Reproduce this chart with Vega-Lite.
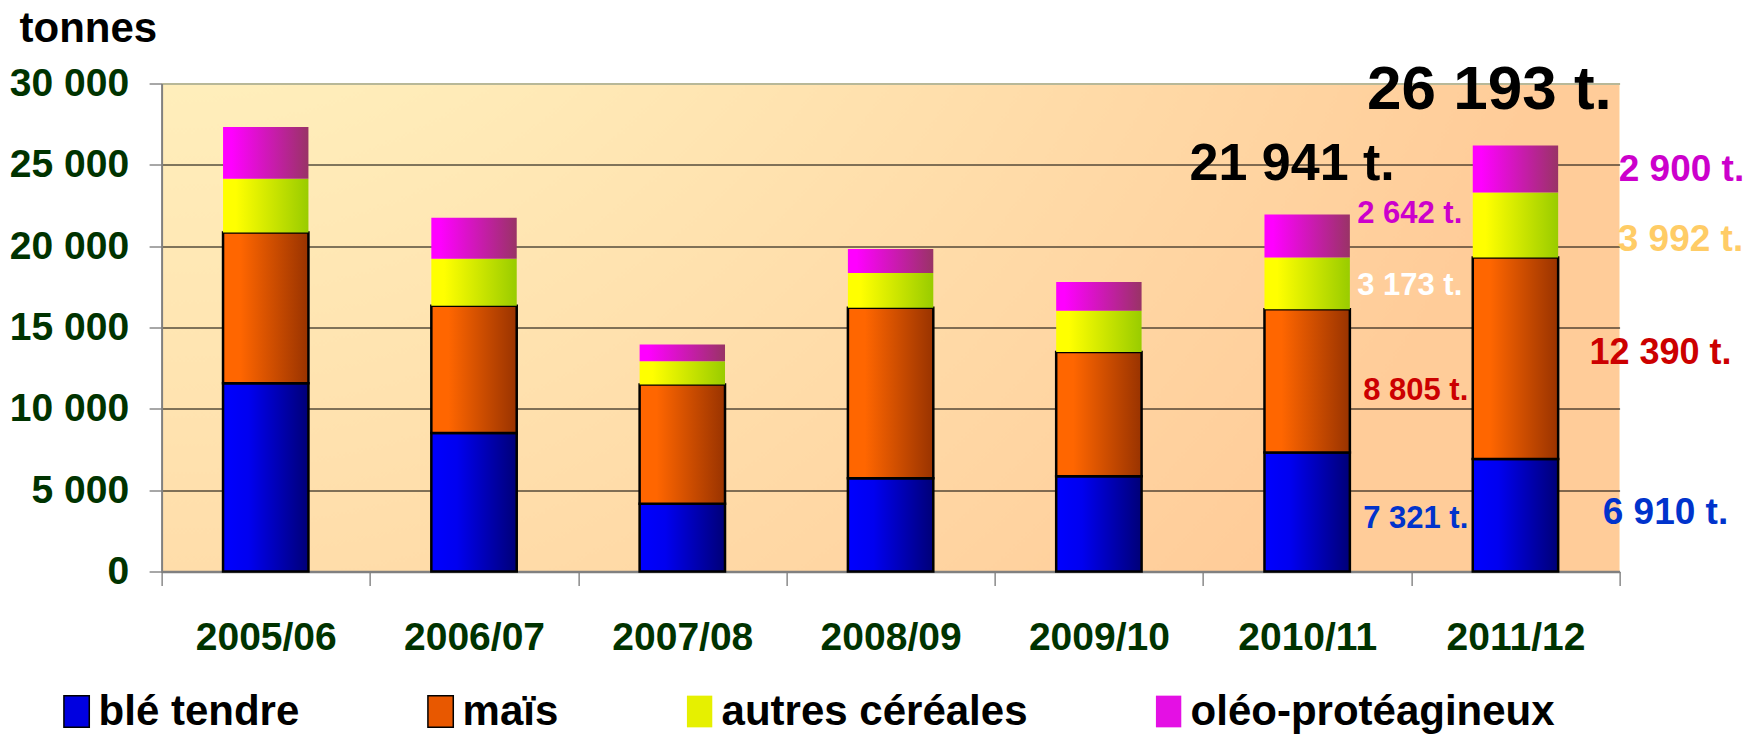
{
  "$schema": "https://vega.github.io/schema/vega-lite/v6.json",
  "width": 1458,
  "height": 488,
  "autosize": {"type": "none"},
  "padding": {"left": 161.6, "top": 83.5, "right": 127.4, "bottom": 165.5},
  "background": "white",
  "datasets": {
    "crops": [
      {"year": "2005/06", "crop": "blé tendre", "value": 11580},
      {"year": "2005/06", "crop": "maïs", "value": 9260},
      {"year": "2005/06", "crop": "autres céréales", "value": 3300},
      {"year": "2005/06", "crop": "oléo-protéagineux", "value": 3190},
      {"year": "2006/07", "crop": "blé tendre", "value": 8510},
      {"year": "2006/07", "crop": "maïs", "value": 7820},
      {"year": "2006/07", "crop": "autres céréales", "value": 2890},
      {"year": "2006/07", "crop": "oléo-protéagineux", "value": 2520},
      {"year": "2007/08", "crop": "blé tendre", "value": 4170},
      {"year": "2007/08", "crop": "maïs", "value": 7330},
      {"year": "2007/08", "crop": "autres céréales", "value": 1420},
      {"year": "2007/08", "crop": "oléo-protéagineux", "value": 1040},
      {"year": "2008/09", "crop": "blé tendre", "value": 5740},
      {"year": "2008/09", "crop": "maïs", "value": 10480},
      {"year": "2008/09", "crop": "autres céréales", "value": 2130},
      {"year": "2008/09", "crop": "oléo-protéagineux", "value": 1470},
      {"year": "2009/10", "crop": "blé tendre", "value": 5860},
      {"year": "2009/10", "crop": "maïs", "value": 7630},
      {"year": "2009/10", "crop": "autres céréales", "value": 2540},
      {"year": "2009/10", "crop": "oléo-protéagineux", "value": 1770},
      {"year": "2010/11", "crop": "blé tendre", "value": 7321},
      {"year": "2010/11", "crop": "maïs", "value": 8805},
      {"year": "2010/11", "crop": "autres céréales", "value": 3173},
      {"year": "2010/11", "crop": "oléo-protéagineux", "value": 2642},
      {"year": "2011/12", "crop": "blé tendre", "value": 6910},
      {"year": "2011/12", "crop": "maïs", "value": 12390},
      {"year": "2011/12", "crop": "autres céréales", "value": 3992},
      {"year": "2011/12", "crop": "oléo-protéagineux", "value": 2900}
    ],
    "totals": [
      {"year": "2010/11", "total": 21941},
      {"year": "2011/12", "total": 26193}
    ]
  },
  "config": {
    "font": "Liberation Sans",
    "view": {
      "stroke": null,
      "fill": {
        "gradient": "radial",
        "x1": 0, "y1": 0, "r1": 0,
        "x2": 0, "y2": 0, "r2": 1,
        "stops": [
          {"offset": 0, "color": "#FFFFCC"},
          {"offset": 1, "color": "#FFCC99"}
        ]
      }
    },
    "text": {"font": "Liberation Sans", "fontWeight": "bold", "baseline": "middle"}
  },
  "layer": [
    {
      "data": {"name": "crops"},
      "transform": [
        {"calculate": "indexof(['blé tendre','maïs','autres céréales','oléo-protéagineux'], datum.crop)", "as": "rank"},
        {"stack": "value", "groupby": ["year"], "sort": [{"field": "rank", "order": "ascending"}], "as": ["y0", "y1"]}
      ],
      "mark": {"type": "bar", "opacity": 0, "width": {"band": 0.41}},
      "encoding": {
        "x": {
          "field": "year", "type": "nominal", "title": null,
          "scale": {"paddingInner": 0, "paddingOuter": 0},
          "axis": {
            "labelAngle": 0, "tickBand": "extent", "tickSize": 14, "tickColor": "#505050",
            "domainColor": "#808080", "domainWidth": 2.5,
            "labelFont": "Liberation Sans",
            "labelFontSize": 39, "labelFontWeight": "bold", "labelColor": "#003300",
            "labelPadding": 32.5, "labelLimit": 400, "grid": false
          }
        },
        "y": {
          "field": "y1", "type": "quantitative",
          "scale": {"domain": [0, 30000], "nice": false},
          "axis": {
            "title": "tonnes", "titleAngle": 0, "titleAlign": "left", "titleBaseline": "alphabetic",
            "titleX": -142.6, "titleY": -41.8, "titleFont": "Liberation Sans", "titleFontSize": 42,
            "titleFontWeight": "bold", "titleColor": "black",
            "values": [0, 5000, 10000, 15000, 20000, 25000, 30000],
            "labelExpr": "replace(format(datum.value, ','), ',', ' ')",
            "labelFont": "Liberation Sans",
            "labelFontSize": 39, "labelFontWeight": "bold", "labelColor": "#003300",
            "labelPadding": 20.5, "tickSize": 12.5, "tickColor": "#505050",
            "domainColor": "#808080", "domainWidth": 2,
            "grid": true,
            "gridColor": {"condition": {"test": "datum.value === 30000", "value": "#B8B898"}, "value": "black"},
            "gridWidth": {"condition": {"test": "datum.value === 30000", "value": 2}, "value": 1}
          }
        },
        "y2": {"field": "y0"},
        "color": {
          "field": "crop", "type": "nominal",
          "scale": {
            "domain": ["blé tendre", "maïs", "autres céréales", "oléo-protéagineux"],
            "range": ["#0000E0", "#E85800", "#E6F000", "#E410E4"]
          },
          "legend": {
            "title": null, "orient": "none", "legendX": -106, "legendY": 607,
            "direction": "horizontal", "padding": 0,
            "symbolType": "M-0.8,-1H0.8V1H-0.8Z", "symbolSize": 1005,
            "symbolOpacity": 1,
            "labelFont": "Liberation Sans", "labelFontSize": 42, "labelFontWeight": "bold",
            "labelColor": "black", "labelOffset": 1, "labelLimit": 600, "columnPadding": 120,
            "encode": {
              "symbols": {
                "update": {
                  "opacity": {"value": 1},
                  "fillOpacity": {"value": 1},
                  "stroke": {"value": "black"},
                  "strokeWidth": {"signal": "indexof(['blé tendre','maïs'], datum.value) >= 0 ? 1.5 : 0"}
                }
              }
            }
          }
        }
      }
    },
    {
      "data": {"name": "crops"},
      "transform": [
        {"calculate": "indexof(['blé tendre','maïs','autres céréales','oléo-protéagineux'], datum.crop)", "as": "rank"},
        {"stack": "value", "groupby": ["year"], "sort": [{"field": "rank", "order": "ascending"}], "as": ["y0", "y1"]},
        {"filter": "datum.crop === 'blé tendre'"}
      ],
      "mark": {"type": "bar", "stroke": "black", "strokeWidth": 2.5, "width": {"band": 0.41},
        "color": {"gradient": "linear", "x1": 0, "y1": 0, "x2": 1, "y2": 0, "stops": [{"offset": 0, "color": "#0000FF"}, {"offset": 0.3, "color": "#0000F0"}, {"offset": 1, "color": "#000077"}]}},
      "encoding": {
        "x": {"field": "year", "type": "nominal"},
        "y": {"field": "y1", "type": "quantitative"},
        "y2": {"field": "y0"}
      }
    },
    {
      "data": {"name": "crops"},
      "transform": [
        {"calculate": "indexof(['blé tendre','maïs','autres céréales','oléo-protéagineux'], datum.crop)", "as": "rank"},
        {"stack": "value", "groupby": ["year"], "sort": [{"field": "rank", "order": "ascending"}], "as": ["y0", "y1"]},
        {"filter": "datum.crop === 'maïs'"}
      ],
      "mark": {"type": "bar", "stroke": "black", "strokeWidth": 2.5, "width": {"band": 0.41},
        "color": {"gradient": "linear", "x1": 0, "y1": 0, "x2": 1, "y2": 0, "stops": [{"offset": 0, "color": "#FF6600"}, {"offset": 0.2, "color": "#FF6600"}, {"offset": 1, "color": "#993300"}]}},
      "encoding": {
        "x": {"field": "year", "type": "nominal"},
        "y": {"field": "y1", "type": "quantitative"},
        "y2": {"field": "y0"}
      }
    },
    {
      "data": {"name": "crops"},
      "transform": [
        {"calculate": "indexof(['blé tendre','maïs','autres céréales','oléo-protéagineux'], datum.crop)", "as": "rank"},
        {"stack": "value", "groupby": ["year"], "sort": [{"field": "rank", "order": "ascending"}], "as": ["y0", "y1"]},
        {"filter": "datum.crop === 'autres céréales'"}
      ],
      "mark": {"type": "bar", "strokeWidth": 0, "width": {"band": 0.41},
        "color": {"gradient": "linear", "x1": 0, "y1": 0, "x2": 1, "y2": 0, "stops": [{"offset": 0, "color": "#FFFF00"}, {"offset": 0.15, "color": "#FFFF00"}, {"offset": 1, "color": "#99CC00"}]}},
      "encoding": {
        "x": {"field": "year", "type": "nominal"},
        "y": {"field": "y1", "type": "quantitative"},
        "y2": {"field": "y0"}
      }
    },
    {
      "data": {"name": "crops"},
      "transform": [
        {"calculate": "indexof(['blé tendre','maïs','autres céréales','oléo-protéagineux'], datum.crop)", "as": "rank"},
        {"stack": "value", "groupby": ["year"], "sort": [{"field": "rank", "order": "ascending"}], "as": ["y0", "y1"]},
        {"filter": "datum.crop === 'oléo-protéagineux'"}
      ],
      "mark": {"type": "bar", "strokeWidth": 0, "width": {"band": 0.41},
        "color": {"gradient": "linear", "x1": 0, "y1": 0, "x2": 1, "y2": 0, "stops": [{"offset": 0, "color": "#FF00FF"}, {"offset": 0.1, "color": "#FF00FF"}, {"offset": 1, "color": "#993366"}]}},
      "encoding": {
        "x": {"field": "year", "type": "nominal"},
        "y": {"field": "y1", "type": "quantitative"},
        "y2": {"field": "y0"}
      }
    },
    {
      "data": {"name": "crops"},
      "transform": [
        {"calculate": "indexof(['blé tendre','maïs','autres céréales','oléo-protéagineux'], datum.crop)", "as": "rank"},
        {"stack": "value", "groupby": ["year"], "sort": [{"field": "rank", "order": "ascending"}], "as": ["y0", "y1"]},
        {"filter": "datum.year === '2010/11' && datum.crop === 'oléo-protéagineux'"},
        {"calculate": "(datum.y0 + datum.y1) / 2", "as": "mid"},
        {"calculate": "replace(format(datum.value, ','), ',', ' ') + ' t.'", "as": "label"}
      ],
      "mark": {"type": "text", "align": "left", "dx": 50, "dy": -22, "fontSize": 31, "color": "#CC00CC"},
      "encoding": {
        "x": {"field": "year", "type": "nominal"},
        "y": {"field": "mid", "type": "quantitative"},
        "text": {"field": "label"}
      }
    },
    {
      "data": {"name": "crops"},
      "transform": [
        {"calculate": "indexof(['blé tendre','maïs','autres céréales','oléo-protéagineux'], datum.crop)", "as": "rank"},
        {"stack": "value", "groupby": ["year"], "sort": [{"field": "rank", "order": "ascending"}], "as": ["y0", "y1"]},
        {"filter": "datum.year === '2010/11' && datum.crop === 'autres céréales'"},
        {"calculate": "(datum.y0 + datum.y1) / 2", "as": "mid"},
        {"calculate": "replace(format(datum.value, ','), ',', ' ') + ' t.'", "as": "label"}
      ],
      "mark": {"type": "text", "align": "left", "dx": 50, "dy": 3, "fontSize": 31, "color": "#FFFFFF"},
      "encoding": {
        "x": {"field": "year", "type": "nominal"},
        "y": {"field": "mid", "type": "quantitative"},
        "text": {"field": "label"}
      }
    },
    {
      "data": {"name": "crops"},
      "transform": [
        {"calculate": "indexof(['blé tendre','maïs','autres céréales','oléo-protéagineux'], datum.crop)", "as": "rank"},
        {"stack": "value", "groupby": ["year"], "sort": [{"field": "rank", "order": "ascending"}], "as": ["y0", "y1"]},
        {"filter": "datum.year === '2010/11' && datum.crop === 'maïs'"},
        {"calculate": "(datum.y0 + datum.y1) / 2", "as": "mid"},
        {"calculate": "replace(format(datum.value, ','), ',', ' ') + ' t.'", "as": "label"}
      ],
      "mark": {"type": "text", "align": "left", "dx": 56, "dy": 10, "fontSize": 31, "color": "#CC0000"},
      "encoding": {
        "x": {"field": "year", "type": "nominal"},
        "y": {"field": "mid", "type": "quantitative"},
        "text": {"field": "label"}
      }
    },
    {
      "data": {"name": "crops"},
      "transform": [
        {"calculate": "indexof(['blé tendre','maïs','autres céréales','oléo-protéagineux'], datum.crop)", "as": "rank"},
        {"stack": "value", "groupby": ["year"], "sort": [{"field": "rank", "order": "ascending"}], "as": ["y0", "y1"]},
        {"filter": "datum.year === '2010/11' && datum.crop === 'blé tendre'"},
        {"calculate": "(datum.y0 + datum.y1) / 2", "as": "mid"},
        {"calculate": "replace(format(datum.value, ','), ',', ' ') + ' t.'", "as": "label"}
      ],
      "mark": {"type": "text", "align": "left", "dx": 56, "dy": 7, "fontSize": 31, "color": "#0033CC"},
      "encoding": {
        "x": {"field": "year", "type": "nominal"},
        "y": {"field": "mid", "type": "quantitative"},
        "text": {"field": "label"}
      }
    },
    {
      "data": {"name": "crops"},
      "transform": [
        {"calculate": "indexof(['blé tendre','maïs','autres céréales','oléo-protéagineux'], datum.crop)", "as": "rank"},
        {"stack": "value", "groupby": ["year"], "sort": [{"field": "rank", "order": "ascending"}], "as": ["y0", "y1"]},
        {"filter": "datum.year === '2011/12' && datum.crop === 'oléo-protéagineux'"},
        {"calculate": "(datum.y0 + datum.y1) / 2", "as": "mid"},
        {"calculate": "replace(format(datum.value, ','), ',', ' ') + ' t.'", "as": "label"}
      ],
      "mark": {"type": "text", "align": "center", "dx": 166, "dy": 1, "fontSize": 37, "color": "#CC00CC"},
      "encoding": {
        "x": {"field": "year", "type": "nominal"},
        "y": {"field": "mid", "type": "quantitative"},
        "text": {"field": "label"}
      }
    },
    {
      "data": {"name": "crops"},
      "transform": [
        {"calculate": "indexof(['blé tendre','maïs','autres céréales','oléo-protéagineux'], datum.crop)", "as": "rank"},
        {"stack": "value", "groupby": ["year"], "sort": [{"field": "rank", "order": "ascending"}], "as": ["y0", "y1"]},
        {"filter": "datum.year === '2011/12' && datum.crop === 'autres céréales'"},
        {"calculate": "(datum.y0 + datum.y1) / 2", "as": "mid"},
        {"calculate": "replace(format(datum.value, ','), ',', ' ') + ' t.'", "as": "label"}
      ],
      "mark": {"type": "text", "align": "center", "dx": 165, "dy": 15, "fontSize": 37, "color": "#FFCC66"},
      "encoding": {
        "x": {"field": "year", "type": "nominal"},
        "y": {"field": "mid", "type": "quantitative"},
        "text": {"field": "label"}
      }
    },
    {
      "data": {"name": "crops"},
      "transform": [
        {"calculate": "indexof(['blé tendre','maïs','autres céréales','oléo-protéagineux'], datum.crop)", "as": "rank"},
        {"stack": "value", "groupby": ["year"], "sort": [{"field": "rank", "order": "ascending"}], "as": ["y0", "y1"]},
        {"filter": "datum.year === '2011/12' && datum.crop === 'maïs'"},
        {"calculate": "(datum.y0 + datum.y1) / 2", "as": "mid"},
        {"calculate": "replace(format(datum.value, ','), ',', ' ') + ' t.'", "as": "label"}
      ],
      "mark": {"type": "text", "align": "center", "dx": 145, "dy": -5, "fontSize": 36, "color": "#CC0000"},
      "encoding": {
        "x": {"field": "year", "type": "nominal"},
        "y": {"field": "mid", "type": "quantitative"},
        "text": {"field": "label"}
      }
    },
    {
      "data": {"name": "crops"},
      "transform": [
        {"calculate": "indexof(['blé tendre','maïs','autres céréales','oléo-protéagineux'], datum.crop)", "as": "rank"},
        {"stack": "value", "groupby": ["year"], "sort": [{"field": "rank", "order": "ascending"}], "as": ["y0", "y1"]},
        {"filter": "datum.year === '2011/12' && datum.crop === 'blé tendre'"},
        {"calculate": "(datum.y0 + datum.y1) / 2", "as": "mid"},
        {"calculate": "replace(format(datum.value, ','), ',', ' ') + ' t.'", "as": "label"}
      ],
      "mark": {"type": "text", "align": "center", "dx": 150, "dy": -2, "fontSize": 37, "color": "#0033CC"},
      "encoding": {
        "x": {"field": "year", "type": "nominal"},
        "y": {"field": "mid", "type": "quantitative"},
        "text": {"field": "label"}
      }
    },
    {
      "data": {"name": "totals"},
      "transform": [
        {"filter": "datum.year === '2010/11'"},
        {"calculate": "replace(format(datum.total, ','), ',', ' ') + ' t.'", "as": "label"}
      ],
      "mark": {"type": "text", "align": "center", "baseline": "alphabetic", "dx": -15, "dy": -35, "fontSize": 52, "color": "black"},
      "encoding": {
        "x": {"field": "year", "type": "nominal"},
        "y": {"field": "total", "type": "quantitative"},
        "text": {"field": "label"}
      }
    },
    {
      "data": {"name": "totals"},
      "transform": [
        {"filter": "datum.year === '2011/12'"},
        {"calculate": "replace(format(datum.total, ','), ',', ' ') + ' t.'", "as": "label"}
      ],
      "mark": {"type": "text", "align": "center", "baseline": "alphabetic", "dx": -26, "dy": -36, "fontSize": 62, "color": "black"},
      "encoding": {
        "x": {"field": "year", "type": "nominal"},
        "y": {"field": "total", "type": "quantitative"},
        "text": {"field": "label"}
      }
    }
  ]
}
